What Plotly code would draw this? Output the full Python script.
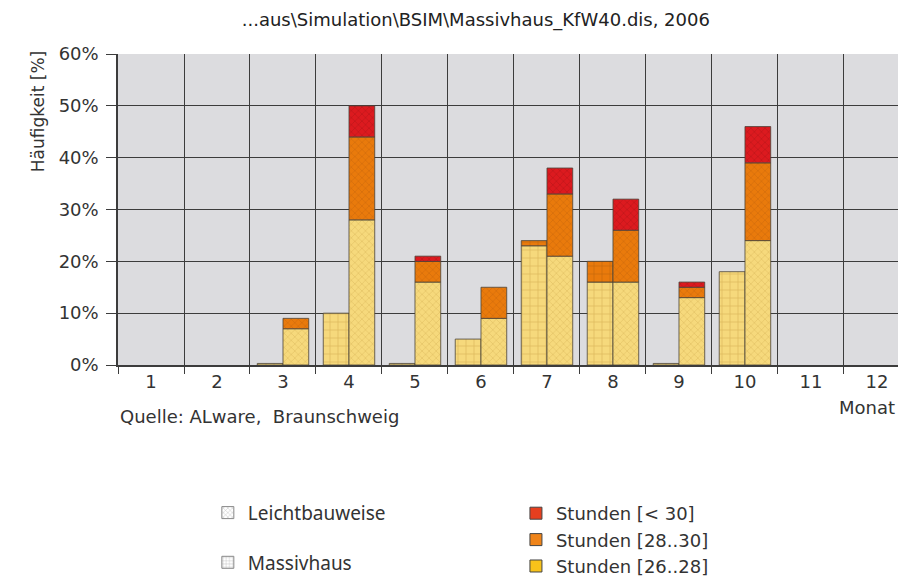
import plotly.graph_objects as go

# ---- data ----
months = list(range(1, 13))
month_labels = [str(m) for m in months]
month_bounds = [m + 0.5 for m in range(0, 13)]

massiv_26_28 = [0, 0, 0.3, 10, 0.3, 5, 23, 16, 0.3, 18, 0, 0]
massiv_28_30 = [0, 0, 0, 0, 0, 0, 1, 4, 0, 0, 0, 0]
massiv_lt30 = [0, 0, 0, 0, 0, 0, 0, 0, 0, 0, 0, 0]

leicht_26_28 = [0, 0, 7, 28, 16, 9, 21, 16, 13, 24, 0, 0]
leicht_28_30 = [0, 0, 2, 16, 4, 6, 12, 10, 2, 15, 0, 0]
leicht_lt30 = [0, 0, 0, 6, 1, 0, 5, 6, 1, 7, 0, 0]

y_ticks = [0, 10, 20, 30, 40, 50, 60]
y_tick_labels = [f"{v}%" for v in y_ticks]

# ---- styles ----
FILL = {"26": "#f6d97c", "28": "#e97a0c", "30": "#dc1a1f"}
FG = {"26": "#c49a3c", "28": "#a8560a", "30": "#8c1010"}
LEG = {"26": "#f8c31a", "28": "#ef8419", "30": "#e63f1f"}
GRID = "#3c3c3c"
TXT = "#333333"
FONT = "DejaVu Sans, Liberation Sans, Arial, sans-serif"
BAR_W = 0.39

fig = go.Figure()


def nz(vals):
    return [v if v else None for v in vals]


def add_stack(layers, shape, size, offset, name):
    base = [0.0] * 12
    for key, vals in layers:
        fig.add_trace(go.Bar(
            x=months, y=nz(vals), base=base[:],
            width=BAR_W, offset=offset,
            marker=dict(color=FILL[key],
                        line=dict(color="#4a4238", width=0.8),
                        pattern=dict(shape=shape, size=size, solidity=0.18,
                                     fgcolor=FG[key], bgcolor=FILL[key],
                                     fillmode="overlay")),
            name=name, showlegend=False, hoverinfo="skip"))
        base = [b + v for b, v in zip(base, vals)]


add_stack([("26", massiv_26_28), ("28", massiv_28_30), ("30", massiv_lt30)],
          "+", 8, -BAR_W, "Massivhaus")
add_stack([("26", leicht_26_28), ("28", leicht_28_30), ("30", leicht_lt30)],
          "x", 5, 0.0, "Leichtbauweise")

# legend entries (construction type)
fig.add_trace(go.Bar(x=[None], y=[None], name="Leichtbauweise", legend="legend",
                     legendgroup="a",
                     marker=dict(color="white", line=dict(color="#888", width=1),
                                 pattern=dict(shape="x", size=4, fgcolor="#777",
                                              bgcolor="white", solidity=0.25))))
fig.add_trace(go.Bar(x=[None], y=[None], name="Massivhaus", legend="legend",
                     legendgroup="b",
                     marker=dict(color="white", line=dict(color="#888", width=1),
                                 pattern=dict(shape="+", size=4, fgcolor="#777",
                                              bgcolor="white", solidity=0.25))))
# legend entries (hours)
for key, label in [("30", "Stunden [< 30]"), ("28", "Stunden [28..30]"),
                   ("26", "Stunden [26..28]")]:
    fig.add_trace(go.Bar(x=[None], y=[None], name=label, legend="legend2",
                         marker=dict(color=LEG[key],
                                     line=dict(color="#444", width=1))))

fig.update_layout(
    width=898, height=569,
    margin=dict(l=110, r=0, t=46, b=212, autoexpand=False),
    paper_bgcolor="white", plot_bgcolor="#dcdcdf",
    barmode="overlay",
    font=dict(family=FONT, size=18, color=TXT),
    title=dict(text="...aus\\Simulation\\BSIM\\Massivhaus_KfW40.dis, 2006",
               x=0.521, xanchor="center", y=0.979, yanchor="middle",
               xref="container", yref="container",
               font=dict(size=18, color="#222")),
    xaxis=dict(range=[0.5, 12.44], tickmode="array", tickvals=months,
               ticktext=month_labels, ticks="", showgrid=False, zeroline=False,
               showline=True, linecolor=GRID, linewidth=1.5,
               tickfont=dict(size=18, color=TXT),
               minor=dict(tickmode="array", tickvals=month_bounds, showgrid=True,
                          gridcolor=GRID, gridwidth=1.3, ticks="outside",
                          ticklen=7, tickcolor=GRID, tickwidth=1.3)),
    yaxis=dict(range=[0, 60], tickmode="array", tickvals=y_ticks,
               ticktext=y_tick_labels, showgrid=True, gridcolor=GRID,
               gridwidth=1.3, zeroline=False, showline=True, linecolor=GRID,
               linewidth=1.5, ticks="outside", ticklen=10, tickcolor=GRID,
               tickwidth=1.3, ticklabelstandoff=4,
               tickfont=dict(size=18, color=TXT)),
    legend=dict(x=0.114, xanchor="left", y=-0.414, yanchor="top",
                bgcolor="rgba(0,0,0,0)", traceorder="grouped",
                tracegroupgap=22,
                font=dict(family="Noto Sans, sans-serif", size=19, color="#333")),
    legend2=dict(x=0.505, xanchor="left", y=-0.418, yanchor="top",
                 bgcolor="rgba(0,0,0,0)", tracegroupgap=0,
                 font=dict(family=FONT, size=18, color="#333")),
    annotations=[
        dict(text="Häufigkeit [%]", xref="paper", yref="paper",
             x=-0.1015, y=0.813, textangle=-90, showarrow=False,
             font=dict(size=17, color=TXT), xanchor="center", yanchor="middle"),
        dict(text="Quelle: ALware,  Braunschweig", xref="paper", yref="paper",
             x=0.0, y=-0.164, xanchor="left", yanchor="middle", showarrow=False,
             font=dict(size=18, color=TXT)),
        dict(text="Monat", xref="paper", yref="paper",
             x=0.9505, y=-0.138, xanchor="center", yanchor="middle",
             showarrow=False, font=dict(size=18, color=TXT)),
    ],
)

fig.write_html("out.html")
